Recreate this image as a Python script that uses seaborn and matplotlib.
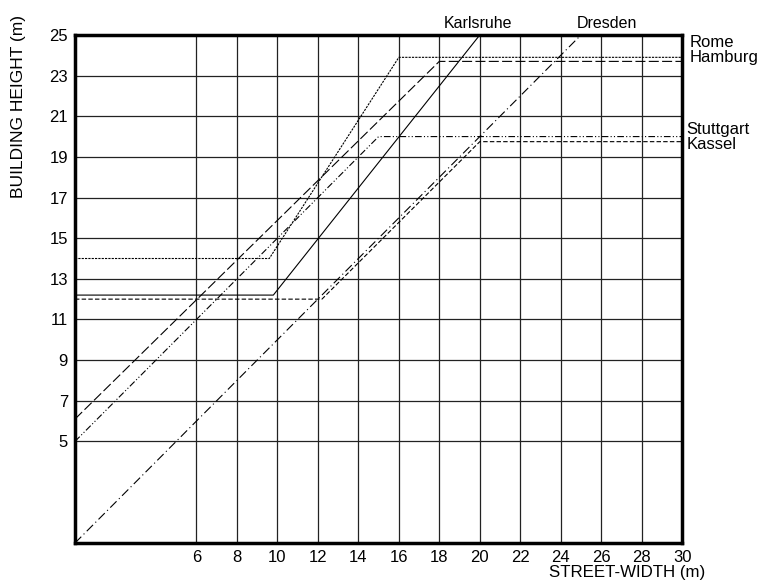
import matplotlib
matplotlib.use('Agg')
import matplotlib.pyplot as plt
import seaborn as sns
import pandas as pd

# ─── Data (street width -> building height, metres) ─────────────────────────
karlsruhe_x = [0, 9.8, 20]
karlsruhe_y = [12.2, 12.2, 25]
rome_x = [0, 9.6, 16, 30]
rome_y = [14, 14, 23.9, 23.9]
hamburg_x = [0, 18, 30]
hamburg_y = [6.1, 23.7, 23.7]
stuttgart_x = [0, 15, 30]
stuttgart_y = [5, 20, 20]
kassel_x = [0, 12.2, 20, 30]
kassel_y = [12, 12, 19.75, 19.75]
dresden_x = [0, 25]
dresden_y = [0, 25]

x_ticks = [6, 8, 10, 12, 14, 16, 18, 20, 22, 24, 26, 28, 30]
y_ticks = [5, 7, 9, 11, 13, 15, 17, 19, 21, 23, 25]

series = {
    'Karlsruhe': (karlsruhe_x, karlsruhe_y, '-'),
    'Rome': (rome_x, rome_y, (0, (2, 1))),
    'Hamburg': (hamburg_x, hamburg_y, (0, (9, 3))),
    'Stuttgart': (stuttgart_x, stuttgart_y, (0, (6, 2, 1, 2, 1, 2))),
    'Kassel': (kassel_x, kassel_y, (0, (4, 2))),
    'Dresden': (dresden_x, dresden_y, (0, (8, 3, 1, 3))),
}

sns.set_style('white')
plt.rcParams['font.family'] = ['Liberation Sans', 'DejaVu Sans']
plt.rcParams['text.color'] = 'black'
plt.rcParams['xtick.color'] = 'black'
plt.rcParams['ytick.color'] = 'black'

fig = plt.figure(figsize=(7.59, 5.81), dpi=100)
ax = fig.add_axes([0.0988, 0.0654, 0.8, 0.8744])

for name, (xs, ys, ls) in series.items():
    df = pd.DataFrame({'w': xs, 'h': ys})
    sns.lineplot(data=df, x='w', y='h', ax=ax, color='black', lw=0.8,
                 linestyle=ls, sort=False, estimator=None)

ax.set_xlim(0, 30)
ax.set_ylim(0, 25)
ax.set_xticks(x_ticks)
ax.set_yticks(y_ticks)
ax.grid(True, color='#222222', lw=0.9)
ax.tick_params(length=0, labelsize=12, pad=5)
for s in ax.spines.values():
    s.set_visible(True)
    s.set_color('black')
    s.set_linewidth(2.5)
ax.set_xlabel('')
ax.set_ylabel('')

# labels outside the plot
fig.text(0.929, 0.014, 'STREET-WIDTH (m)', ha='right', va='center', fontsize=12.2)
fig.text(0.024, 0.975, 'BUILDING HEIGHT (m)', ha='center', va='top',
         rotation=90, fontsize=12.5)

ax.text(19.9, 25.2, 'Karlsruhe', ha='center', va='bottom', fontsize=11.5)
ax.text(26.3, 25.2, 'Dresden', ha='center', va='bottom', fontsize=11.5)
ax.text(30.35, 24.65, 'Rome', ha='left', va='center', fontsize=12, clip_on=False)
ax.text(30.35, 23.9, 'Hamburg', ha='left', va='center', fontsize=12, clip_on=False)
ax.text(30.2, 20.35, 'Stuttgart', ha='left', va='center', fontsize=12, clip_on=False)
ax.text(30.2, 19.6, 'Kassel', ha='left', va='center', fontsize=12, clip_on=False)

plt.savefig('out.png', dpi=100)
